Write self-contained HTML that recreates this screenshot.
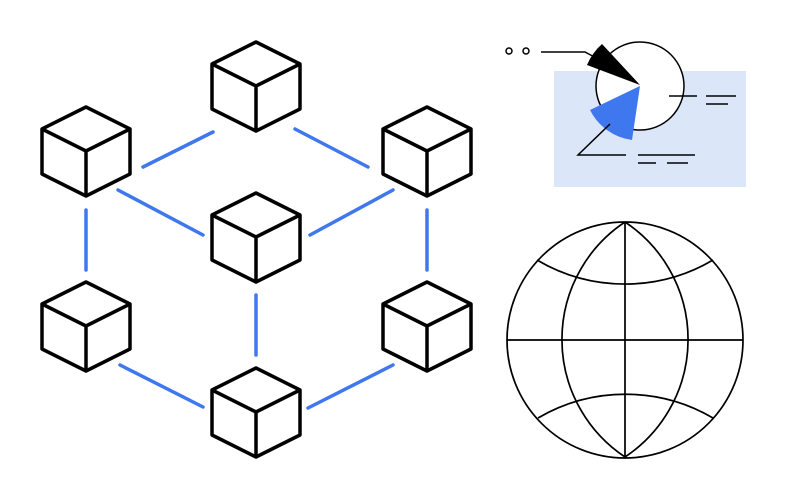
<html><body style="margin:0;background:#fff">
<svg width="786" height="500" viewBox="0 0 786 500" xmlns="http://www.w3.org/2000/svg">
<defs>
<g id="c" fill="#fff" stroke="#000" stroke-width="3.5" stroke-linejoin="round">
<path d="M0 0 L-44 22 L-44 67 L0 89 L44 67 L44 22 Z"/>
<path d="M-44 22 L0 44 L44 22 M0 44 L0 89" fill="none"/>
</g>
</defs>
<g stroke="#3f78ee" stroke-width="3.5" stroke-linecap="round">
<line x1="143" y1="167" x2="213" y2="132"/><line x1="295" y1="129" x2="368" y2="167"/>
<line x1="118" y1="190" x2="203" y2="235"/><line x1="310" y1="235" x2="393" y2="190"/>
<line x1="86" y1="210" x2="86" y2="270"/><line x1="427" y1="210" x2="427" y2="270"/>
<line x1="256" y1="295" x2="256" y2="355"/><line x1="120" y1="365" x2="203" y2="407"/>
<line x1="308" y1="408" x2="393" y2="365"/>
</g>
<use href="#c" x="256" y="42"/><use href="#c" x="86" y="107"/><use href="#c" x="427" y="107"/>
<use href="#c" x="256" y="193"/><use href="#c" x="86" y="282"/><use href="#c" x="427" y="282"/>
<use href="#c" x="256" y="368"/>
<rect x="554" y="71" width="192" height="116" fill="#dce6f9"/>
<circle cx="640" cy="86" r="44" fill="#fff" stroke="#000" stroke-width="1.5"/>
<path d="M640 85 L587 65 A57 57 0 0 1 602 44 Z" fill="#000"/>
<path d="M640 86 L590 110 A55 55 0 0 0 632 140 Z" fill="#3f78ee"/>
<g stroke="#000" stroke-width="1.5" fill="none">
<circle cx="509" cy="51" r="3"/><circle cx="526" cy="51" r="3"/>
<path d="M541 52 L585 52 L600 60"/>
<path d="M669 96 H697 M706 96 H736 M706 104 H728"/>
<path d="M610 124 L578 155 L626 155 M638 155 H695 M638 163 H656 M667 163 H688"/>
</g>
<g stroke="#000" stroke-width="1.7" fill="none">
<circle cx="625" cy="340" r="118"/>
<path d="M625 222 A141 141 0 0 0 625 457 A141 141 0 0 0 625 222"/>
<path d="M625 222 V457 M507 340 H743"/>
<path d="M537 260 A173 173 0 0 0 713 260"/>
<path d="M538 418 A173 173 0 0 1 713 418"/>
</g>
</svg>
</body></html>
